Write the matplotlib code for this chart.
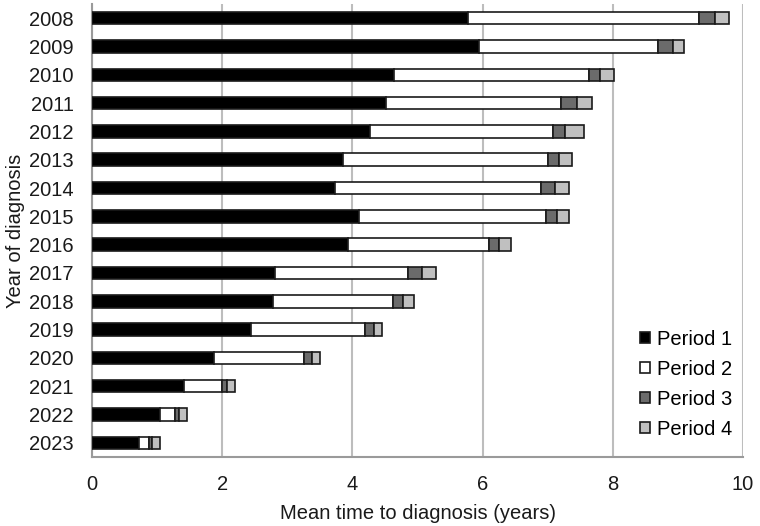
import matplotlib
matplotlib.use("Agg")
import matplotlib.pyplot as plt
import numpy as np

plt.rcParams['font.family'] = ['Liberation Sans', 'DejaVu Sans']

years = ["2008", "2009", "2010", "2011", "2012", "2013", "2014", "2015",
         "2016", "2017", "2018", "2019", "2020", "2021", "2022", "2023"]
period1 = [5.77, 5.95, 4.64, 4.52, 4.27, 3.85, 3.74, 4.10, 3.94, 2.81, 2.78, 2.44, 1.87, 1.41, 1.04, 0.72]
period2 = [3.56, 2.74, 3.00, 2.68, 2.81, 3.15, 3.16, 2.88, 2.16, 2.05, 1.84, 1.75, 1.39, 0.59, 0.23, 0.15]
period3 = [0.24, 0.23, 0.16, 0.25, 0.19, 0.17, 0.21, 0.16, 0.15, 0.21, 0.16, 0.14, 0.12, 0.08, 0.06, 0.05]
period4 = [0.21, 0.18, 0.22, 0.23, 0.29, 0.21, 0.21, 0.19, 0.19, 0.21, 0.17, 0.12, 0.12, 0.12, 0.13, 0.12]
series_names = ["Period 1", "Period 2", "Period 3", "Period 4"]
colors = ["#000000", "#ffffff", "#6b6b6b", "#c0c0c0"]

fs = 14.5
fig = plt.figure(figsize=(7.6, 5.26), dpi=100)
ax = fig.add_axes([92/760, 1 - 457/526, (743-92)/760, (457-4)/526])

y = np.arange(len(years))
left = np.zeros(len(years))
for vals, name, c in zip([period1, period2, period3, period4], series_names, colors):
    ax.barh(y, vals, left=left, height=0.44, color=c, edgecolor="#1a1a1a",
            linewidth=1.2, label=name, zorder=3)
    left += np.array(vals)

ax.set_ylim(len(years) - 0.5, -0.5)
ax.set_xlim(0, 10)
ax.set_xticks([0, 2, 4, 6, 8, 10])
ax.set_yticks(y)
ax.set_yticklabels(years)
ax.tick_params(axis='both', labelsize=fs, length=0, colors="#1a1a1a")
ax.tick_params(axis='x', pad=13)
ax.tick_params(axis='y', pad=13)
ax.grid(axis='x', color="#bdbdbd", linewidth=1.5, zorder=0)
for s in ["top", "right"]:
    ax.spines[s].set_visible(False)
for s in ["left", "bottom"]:
    ax.spines[s].set_color("#9a9a9a")
    ax.spines[s].set_linewidth(1.5)
ax.set_xlabel("Mean time to diagnosis (years)", fontsize=fs, labelpad=7, color="#1a1a1a")
ax.set_ylabel("Year of diagnosis", fontsize=fs, labelpad=3, color="#1a1a1a")

leg = ax.legend(loc="lower right", bbox_to_anchor=(1.0 + 3/651, 4/453), frameon=False,
                fontsize=fs, handlelength=0.5, handleheight=0.5,
                handletextpad=0.35, labelspacing=0.55, borderaxespad=0.3)

fig.savefig("out.png", dpi=100)
